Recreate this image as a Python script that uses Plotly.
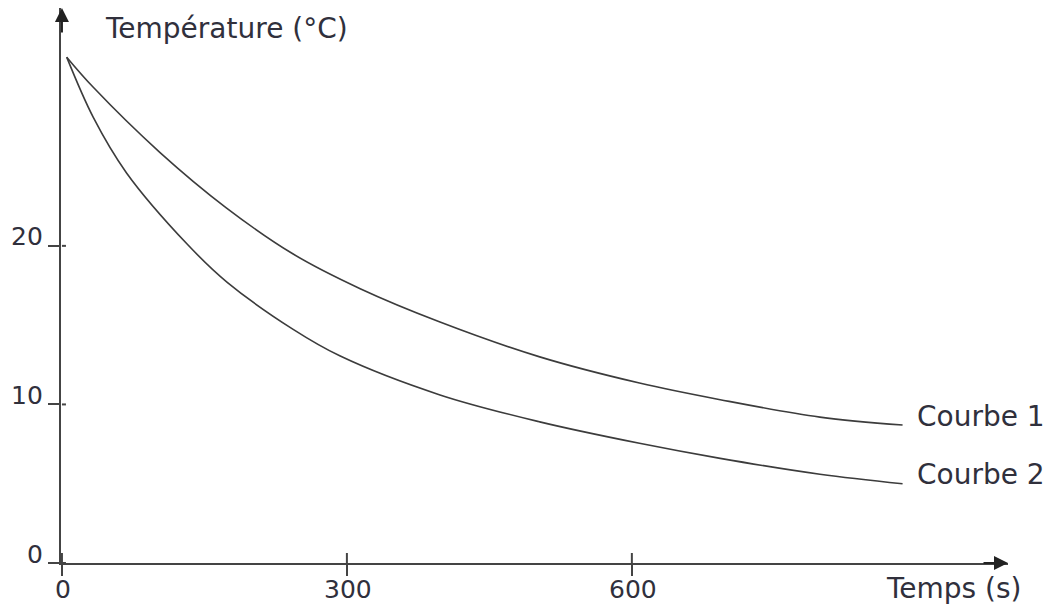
import plotly.graph_objects as go

# Data
time_1 = [5, 33, 103, 173, 243, 314, 398, 503, 608, 693, 798, 885]
temp_1 = [31.9, 30.0, 25.9, 22.4, 19.5, 17.3, 15.2, 13.0, 11.35, 10.3, 9.2, 8.7]
time_2 = [5, 33, 68, 132, 174, 243, 293, 398, 503, 608, 693, 798, 885]
temp_2 = [31.9, 28.1, 24.6, 20.1, 17.7, 14.75, 13.05, 10.6, 8.9, 7.55, 6.6, 5.6, 5.0]
series_names = ["Courbe 1", "Courbe 2"]

x_ticks = [0, 300, 600]
x_tick_labels = ["0", "300", "600"]
y_ticks = [0, 10, 20]
y_tick_labels = ["0", "10", "20"]

x_title = "Temps (s)"
y_title = "Température (°C)"

X_MAX = 996
Y_MAX = 35

FONT = "DejaVu Sans"
TXT = "#30303c"
LINE = "#3c3c3c"
AXIS = "#444444"

fig = go.Figure()
for t, v, name in [(time_1, temp_1, series_names[0]), (time_2, temp_2, series_names[1])]:
    fig.add_trace(go.Scatter(x=t, y=v, mode="lines", name=name,
                             line=dict(color=LINE, width=1.6, shape="spline", smoothing=1.0),
                             showlegend=False, hoverinfo="skip"))

# inner halves of the crossing ticks (outer halves come from the axes)
shapes = []
for tv in x_ticks:
    shapes.append(dict(type="line", xref="x", x0=tv, x1=tv,
                       yref="y", ysizemode="pixel", yanchor=0, y0=0, y1=10,
                       line=dict(color=AXIS, width=2)))
for tv in y_ticks:
    shapes.append(dict(type="line", yref="y", y0=tv, y1=tv,
                       xref="x", xsizemode="pixel", xanchor=0, x0=0, x1=4,
                       line=dict(color=AXIS, width=2)))

annotations = []
# axis arrows
annotations.append(dict(x=X_MAX, y=0, xref="x", yref="y", ax=-26, ay=0, text="",
                        showarrow=True, arrowhead=2, arrowsize=1.4, arrowwidth=2,
                        arrowcolor="#222222"))
annotations.append(dict(x=0, y=Y_MAX, xref="x", yref="y", ax=0, ay=26, text="",
                        showarrow=True, arrowhead=2, arrowsize=1.4, arrowwidth=2,
                        arrowcolor="#222222"))
# tick labels
for tv, lab in zip(x_ticks, x_tick_labels):
    annotations.append(dict(x=tv, y=0, xref="x", yref="y", text=lab, showarrow=False,
                            xanchor="center", yanchor="middle", yshift=-26, xshift=1,
                            font=dict(family=FONT, size=25, color=TXT)))
for tv, lab in zip(y_ticks, y_tick_labels):
    annotations.append(dict(x=0, y=tv, xref="x", yref="y", text=lab, showarrow=False,
                            xanchor="right", yanchor="middle", xshift=-17, yshift=9,
                            font=dict(family=FONT, size=25, color=TXT)))
# axis titles
annotations.append(dict(x=45, y=Y_MAX, xref="x", yref="y", text=y_title, showarrow=False,
                        xanchor="left", yanchor="middle", yshift=-20, xshift=-2,
                        font=dict(family=FONT, size=28, color=TXT)))
annotations.append(dict(x=X_MAX, y=0, xref="x", yref="y", text=x_title, showarrow=False,
                        xanchor="right", yanchor="middle", yshift=-25, xshift=16,
                        font=dict(family=FONT, size=28, color=TXT)))
# series labels
for t, v, name in [(time_1, temp_1, series_names[0]), (time_2, temp_2, series_names[1])]:
    annotations.append(dict(x=t[-1], y=v[-1], xref="x", yref="y", text=name, showarrow=False,
                            xanchor="left", yanchor="middle", xshift=12, yshift=9,
                            font=dict(family=FONT, size=28, color=TXT)))

# page body has an 8px margin: size the figure so that it fits the 1056x608 window
fig.update_layout(
    width=1048, height=600,
    margin=dict(l=53, r=48, t=0, b=45),
    paper_bgcolor="white", plot_bgcolor="white",
    xaxis=dict(range=[-1, X_MAX], showgrid=False, zeroline=False, showticklabels=False,
               tickmode="array", tickvals=x_ticks, ticks="outside", ticklen=11,
               tickwidth=2, tickcolor=AXIS,
               showline=True, linecolor=AXIS, linewidth=2, fixedrange=True),
    yaxis=dict(range=[0, Y_MAX], showgrid=False, zeroline=False, showticklabels=False,
               tickmode="array", tickvals=y_ticks, ticks="outside", ticklen=11,
               tickwidth=2, tickcolor=AXIS,
               showline=True, linecolor=AXIS, linewidth=2, fixedrange=True),
    shapes=shapes,
    annotations=annotations,
    showlegend=False,
)

fig.write_html("out.html")
